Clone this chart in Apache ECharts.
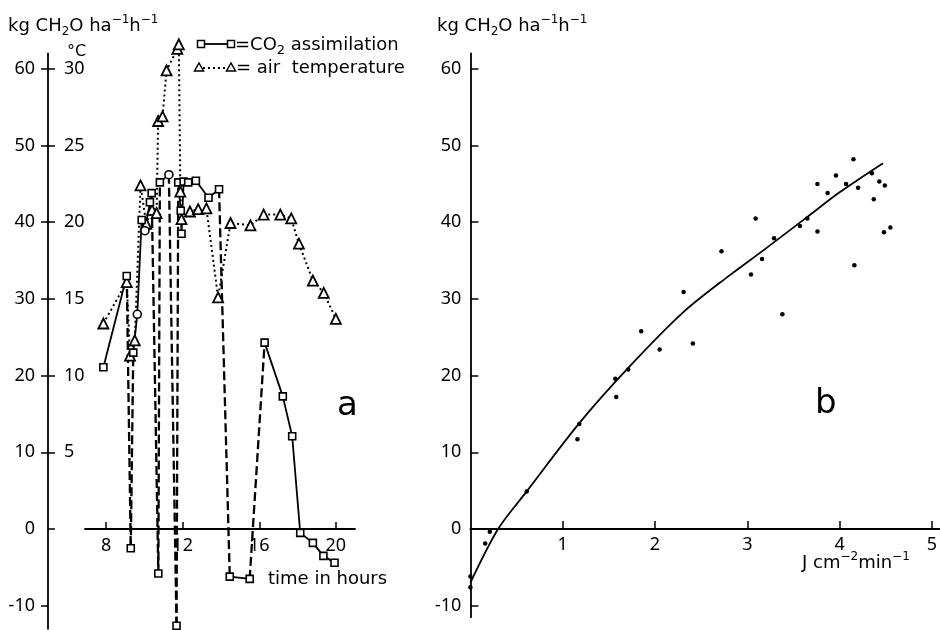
<!DOCTYPE html>
<html><head><meta charset="utf-8">
<script src="https://cdn.jsdelivr.net/npm/echarts@6/dist/echarts.min.js"></script>
<style>html,body{margin:0;padding:0;background:#fff}#c{width:940px;height:630px}</style>
</head><body><div id="c"></div>
<script>
// ---- panel a : CO2 assimilation (kg CH2O ha-1 h-1) vs time of day ----
const co2Hours  = [7.86, 9.08, 9.29, 9.42, 9.63, 9.86, 10.03, 10.29, 10.38, 10.73, 10.81, 11.28, 11.68, 11.77, 11.90, 11.94, 12.05, 12.29, 12.69, 13.35, 13.90, 14.46, 15.50, 16.28, 17.23, 17.72, 18.14, 18.80, 19.35, 19.93];
const co2Values = [21.1, 33.0, -2.5, 23.0, 28.0, 40.3, 38.9, 42.6, 43.8, -5.8, 45.2, 46.2, -12.6, 45.2, 41.5, 38.5, 45.3, 45.2, 45.4, 43.2, 44.3, -6.2, -6.5, 24.3, 17.3, 12.1, -0.5, -1.8, -3.5, -4.4];
// index of segments (i -> i+1) drawn dashed
const co2DashedSegments = [1, 2, 8, 9, 11, 12, 20, 22];
const co2RoundMarkers = [4, 6, 11];
// ---- panel a : air temperature (°C) ----
const tempHours  = [7.86, 9.08, 9.25, 9.50, 9.80, 10.10, 10.40, 10.64, 10.72, 10.95, 11.16, 11.72, 11.80, 11.88, 11.94, 12.38, 12.81, 13.24, 13.85, 14.50, 15.54, 16.23, 17.10, 17.67, 18.07, 18.80, 19.37, 20.00];
const tempValues = [13.4, 16.1, 11.3, 12.3, 22.4, 19.9, 20.8, 20.6, 26.6, 26.9, 29.9, 31.3, 31.6, 22.0, 20.2, 20.7, 20.85, 20.9, 15.1, 19.95, 19.8, 20.5, 20.5, 20.25, 18.6, 16.2, 15.4, 13.7];
const hourTicks = [8, 12, 16, 20];
const co2Ticks = [-10, 0, 10, 20, 30, 40, 50, 60];
const tempTicks = [5, 10, 15, 20, 25, 30];
// ---- panel b : assimilation vs light intensity ----
const lightValues = [3.76, 3.87, 4.07, 4.20, 4.37, 4.43, 4.49, 4.48, 4.55, 4.16, 3.76, 3.65, 3.57, 3.29, 3.09, 3.16, 3.04, 3.38, 2.72, 2.31, 2.41, 2.05, 1.85, 1.71, 1.57, 1.58, 1.18, 4.15, 3.96, 4.35, 1.16, 0.61, 0.21, 0.16, 0.00, 0.00];
const assimValues = [45.0, 43.8, 45.0, 44.5, 43.0, 45.3, 44.8, 38.7, 39.3, 34.4, 38.8, 40.5, 39.5, 37.9, 40.5, 35.2, 33.2, 28.0, 36.2, 30.9, 24.2, 23.4, 25.8, 20.8, 19.6, 17.2, 13.7, 48.2, 46.1, 46.4, 11.7, 4.9, -0.35, -1.9, -6.2, -7.6];
const curveLight = [0.00, 0.30, 0.61, 1.18, 1.71, 2.31, 2.80, 3.17, 3.64, 4.00, 4.47];
const curveAssim = [-7.0, 0.0, 4.9, 13.8, 21.0, 28.3, 33.0, 36.3, 40.6, 43.9, 47.7];
const lightTicks = [1, 2, 3, 4, 5];
const rightTicks = [-10, 0, 10, 20, 30, 40, 50, 60];

const FONT = '"Noto Sans", "DejaVu Sans", sans-serif';
const TFONT = '"DejaVu Sans", sans-serif';
const chart = echarts.init(document.getElementById('c'), null, {renderer: 'canvas'});

// build CO2 line pieces
const series = [];
const pt = i => [co2Hours[i], co2Values[i]];
let run = [];
const flushRun = () => {
  if (run.length > 1) series.push({type:'line', xAxisIndex:0, yAxisIndex:0, data:run, showSymbol:false, symbol:'none', silent:true, clip:false,
    lineStyle:{color:'#000', width:1.8}, z:2});
  run = [];
};
for (let i = 0; i < co2Hours.length - 1; i++) {
  if (co2DashedSegments.includes(i)) {
    flushRun();
    series.push({type:'line', xAxisIndex:0, yAxisIndex:0, data:[pt(i), pt(i+1)], showSymbol:false, symbol:'none', silent:true, clip:false,
      lineStyle:{color:'#000', width:2.3, type:[9,4]}, z:2});
  } else {
    if (run.length === 0) run.push(pt(i));
    run.push(pt(i+1));
  }
}
flushRun();
// temperature
series.push({type:'line', xAxisIndex:0, yAxisIndex:1, data: tempHours.map((h,i)=>[h,tempValues[i]]), clip:false,
  symbol:'triangle', symbolSize:10, showAllSymbol:true,
  itemStyle:{color:'#fff', borderColor:'#000', borderWidth:1.8, opacity:1},
  lineStyle:{color:'#000', width:2, type:[2,3]}, z:3});
// CO2 markers
series.push({type:'scatter', xAxisIndex:0, yAxisIndex:0, clip:false,
  data: co2Hours.map((h,i)=> co2RoundMarkers.includes(i) ? {value:[h,co2Values[i]], symbol:'circle', symbolSize:8} : [h,co2Values[i]]),
  symbol:'rect', symbolSize:7,
  itemStyle:{color:'#fff', borderColor:'#000', borderWidth:1.6, opacity:1}, z:4});
// panel b
series.push({type:'line', xAxisIndex:1, yAxisIndex:2, data: curveLight.map((x,i)=>[x,curveAssim[i]]), clip:false,
  smooth:0.3, showSymbol:false, symbol:'none', lineStyle:{color:'#000', width:1.8}, z:2});
series.push({type:'scatter', xAxisIndex:1, yAxisIndex:2, data: lightValues.map((x,i)=>[x,assimValues[i]]), clip:false,
  symbol:'circle', symbolSize:4.5, itemStyle:{color:'#000', opacity:1}, z:3});

const axisFont = {color:'#000', fontFamily:FONT, fontSize:18};
const hiddenX = (g, mn, mx) => ({type:'value', gridIndex:g, min:mn, max:mx, show:false});
const richTitle = {
  sup:{fontSize:12, fontFamily:TFONT, verticalAlign:'top', lineHeight:24, fill:'#000'},
  sub:{fontSize:12, fontFamily:TFONT, verticalAlign:'bottom', lineHeight:24, fill:'#000'},
  b:{fontSize:18, fontFamily:TFONT, verticalAlign:'middle', lineHeight:24, fill:'#000'}
};
const option = {
  animation:false,
  backgroundColor:'#fff',
  grid:[
    {left:85, width:270, top:53.5, height:575.25, outerBoundsMode:'none'},
    {left:470.4, width:468.9, top:53.5, height:563.7, outerBoundsMode:'none'},
    {left:85, width:270, top:53.5, height:475.54, outerBoundsMode:'none'},
    {left:470.4, width:468.9, top:53.5, height:475.5, outerBoundsMode:'none'}
  ],
  xAxis:[
    hiddenX(0, 6.9, 21.0),
    hiddenX(1, 0, 5.08),
    {type:'value', gridIndex:2, min:6.9, max:21.0, position:'bottom',
     axisLine:{onZero:false, lineStyle:{color:'#000', width:1.8}},
     axisTick:{inside:true, length:7, customValues:hourTicks, lineStyle:{color:'#000', width:1.5}},
     axisLabel:Object.assign({customValues:hourTicks, margin:8}, axisFont),
     splitLine:{show:false}},
    {type:'value', gridIndex:3, min:0, max:5.08, position:'bottom',
     axisLine:{onZero:false, lineStyle:{color:'#000', width:1.8}},
     axisTick:{inside:true, length:8, customValues:lightTicks, lineStyle:{color:'#000', width:1.5}},
     axisLabel:Object.assign({customValues:lightTicks, margin:7}, axisFont),
     splitLine:{show:false}}
  ],
  yAxis:[
    {type:'value', gridIndex:0, min:-13, max:62, position:'left', offset:37,
     axisLine:{show:true, onZero:false, lineStyle:{color:'#000', width:1.8}},
     axisTick:{show:true, length:7, customValues:[-10,10,20,30,40,50,60], lineStyle:{color:'#000', width:1.5}},
     axisLabel:Object.assign({customValues:co2Ticks, margin:13}, axisFont),
     splitLine:{show:false}},
    {type:'value', gridIndex:0, min:-6.5, max:31, position:'left', offset:37,
     axisLine:{show:false, onZero:false},
     axisTick:{show:true, inside:true, length:7, customValues:[0,5,10,15,20,25,30], lineStyle:{color:'#000', width:1.5}},
     axisLabel:Object.assign({customValues:tempTicks, inside:true, margin:16}, axisFont),
     splitLine:{show:false}},
    {type:'value', gridIndex:1, min:-11.5, max:62, position:'left',
     axisLine:{show:true, onZero:false, lineStyle:{color:'#000', width:1.8}},
     axisTick:{show:true, inside:true, length:8, customValues:rightTicks, lineStyle:{color:'#000', width:1.5}},
     axisLabel:Object.assign({customValues:rightTicks, margin:9}, axisFont),
     splitLine:{show:false}},
    {type:'value', gridIndex:2, min:0, max:1, show:false},
    {type:'value', gridIndex:3, min:0, max:1, show:false}
  ],
  series: series,
  graphic:[
    {type:'text', x:8, y:14, style:{text:'{b|kg CH}{sub|2}{b|O ha}{sup|−1}{b|h}{sup|−1}', rich:richTitle}},
    {type:'text', x:67, y:52, style:{text:'°C', font:'16px '+TFONT, fill:'#000', verticalAlign:'middle'}},
    {type:'text', x:437, y:14, style:{text:'{b|kg CH}{sub|2}{b|O ha}{sup|−1}{b|h}{sup|−1}', rich:richTitle}},
    // legend row 1
    {type:'line', shape:{x1:201, y1:44, x2:230, y2:44}, style:{stroke:'#000', lineWidth:1.8}},
    {type:'rect', shape:{x:197.5, y:40.5, width:7, height:7}, style:{fill:'#fff', stroke:'#000', lineWidth:1.5}},
    {type:'rect', shape:{x:227.5, y:40.5, width:7, height:7}, style:{fill:'#fff', stroke:'#000', lineWidth:1.5}},
    {type:'text', x:235, y:33, style:{text:'{b|=CO}{sub|2}{b| assimilation}', rich:{
      b:{fontSize:18, fontFamily:TFONT, verticalAlign:'middle', lineHeight:24, fill:'#000'},
      sub:{fontSize:13, fontFamily:TFONT, verticalAlign:'bottom', lineHeight:24, fill:'#000'}}}},
    // legend row 2
    {type:'line', shape:{x1:203, y1:68, x2:228, y2:68}, style:{stroke:'#000', lineWidth:1.8, lineDash:[2,3]}},
    {type:'polygon', shape:{points:[[199,63],[194.5,71],[203.5,71]]}, style:{fill:'#fff', stroke:'#000', lineWidth:1.5}},
    {type:'polygon', shape:{points:[[231,63],[226.5,71],[235.5,71]]}, style:{fill:'#fff', stroke:'#000', lineWidth:1.5}},
    {type:'text', x:236, y:68, style:{text:'= air  temperature', font:'18px '+TFONT, fill:'#000', verticalAlign:'middle'}},
    {type:'text', x:337, y:406, style:{text:'a', font:'34px '+TFONT, fill:'#000', verticalAlign:'middle'}},
    {type:'text', x:815, y:404, style:{text:'b', font:'34px '+TFONT, fill:'#000', verticalAlign:'middle'}},
    {type:'text', x:268, y:579, style:{text:'time in hours', font:'18px '+TFONT, fill:'#000', verticalAlign:'middle'}},
    {type:'text', x:802, y:551, style:{text:'{b|J cm}{sup|−2}{b|min}{sup|−1}', rich:richTitle}}
  ]
};
chart.setOption(option);
</script>
</body></html>
